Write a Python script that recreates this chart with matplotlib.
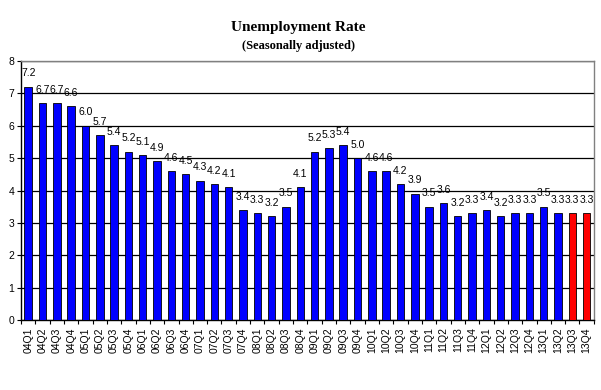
import numpy as np
import matplotlib
matplotlib.use("Agg")
import matplotlib.pyplot as plt

# Quarterly unemployment rate, seasonally adjusted
quarters = [f"{y:02d}Q{q}" for y in range(4, 14) for q in range(1, 5)]
rates = [7.2, 6.7, 6.7, 6.6, 6.0, 5.7, 5.4, 5.2, 5.1, 4.9,
         4.6, 4.5, 4.3, 4.2, 4.1, 3.4, 3.3, 3.2, 3.5, 4.1,
         5.2, 5.3, 5.4, 5.0, 4.6, 4.6, 4.2, 3.9, 3.5, 3.6,
         3.2, 3.3, 3.4, 3.2, 3.3, 3.3, 3.5, 3.3, 3.3, 3.3]
forecast = ["13Q3", "13Q4"]

colors = ["#ff0000" if q in forecast else "#0000ff" for q in quarters]

fig = plt.figure(figsize=(6.01, 3.90), dpi=100)
ax = fig.add_axes([0.035, 0.179, 0.953, 0.665])

x = np.arange(len(quarters))
ax.bar(x, rates, width=0.52, color=colors, edgecolor="black", linewidth=0.6, zorder=3)

for xi, v in zip(x, rates):
    ax.annotate(f"{v:.1f}", (xi, v), xytext=(0, 6), textcoords="offset points",
                ha="center", va="bottom", fontsize=7.5, family="Liberation Sans", zorder=4)

ax.set_xlim(-0.5, len(quarters) - 0.5)
ax.set_ylim(0, 8)
ax.set_yticks(range(0, 9))
ax.yaxis.grid(True, color="black", linewidth=0.9, zorder=1)
ax.set_axisbelow(True)

ax.set_xticks(x)
ax.set_xticklabels(quarters, rotation=90, fontsize=7.5, family="Liberation Sans")
ax.set_xticks(np.arange(-0.5, len(quarters)), minor=True)
ax.tick_params(axis="x", which="major", length=0, pad=5)
ax.tick_params(axis="x", which="minor", length=3, width=0.8, direction="out")
ax.tick_params(axis="y", length=3, width=0.8, labelsize=7.5, pad=2)
for lab in ax.get_yticklabels():
    lab.set_family("Liberation Sans")

ax.spines["left"].set_color("black")
ax.spines["bottom"].set_color("black")
ax.spines["top"].set_color("#808080")
ax.spines["right"].set_color("#808080")
for s in ax.spines.values():
    s.set_linewidth(1.0)

fig.text(0.497, 0.93, "Unemployment Rate", ha="center", va="center",
         fontsize=11, fontweight="bold", family="Liberation Serif")
fig.text(0.497, 0.882, "(Seasonally adjusted)", ha="center", va="center",
         fontsize=9, fontweight="bold", family="Liberation Serif")

fig.savefig("out.png", dpi=100)
